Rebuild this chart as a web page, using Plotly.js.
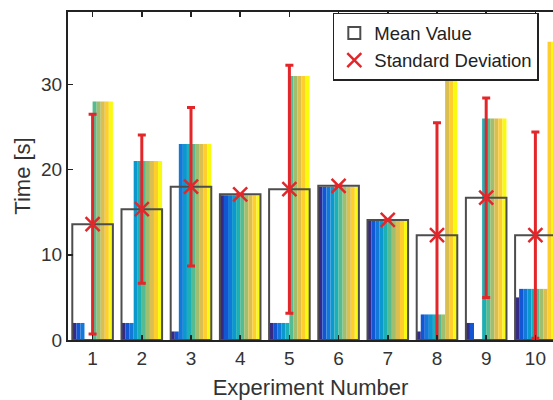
<!DOCTYPE html>
<html><head><meta charset="utf-8">
<script src="https://cdn.plot.ly/plotly-3.0.1.min.js"></script>
<style>html,body{margin:0;padding:0;overflow:hidden;background:#fff}</style>
</head><body><div id="chart" style="width:553px;height:400px"></div>
<script>
// ---- data ----
const experiments = [1, 2, 3, 4, 5, 6, 7, 8, 9, 10];
const tickLabels = ['1', '2', '3', '4', '5', '6', '7', '8', '9', '10'];
// time [s] of the 10 individual trials in each experiment
const exp1  = [2, 2, 2, 0, 0, 28, 28, 28, 28, 28];
const exp2  = [2, 2, 2, 21, 21, 21, 21, 21, 21, 21];
const exp3  = [1, 1, 23, 23, 23, 23, 23, 23, 23, 23];
const exp4  = [17, 17, 17, 17, 17, 17, 17, 17, 17, 17];
const exp5  = [2, 2, 2, 2, 2, 31, 31, 31, 31, 31];
const exp6  = [18, 18, 18, 18, 18, 18, 18, 18, 18, 18];
const exp7  = [14, 14, 14, 14, 14, 14, 14, 14, 14, 14];
const exp8  = [1, 3, 3, 3, 3, 3, 3, 31, 31, 31];
const exp9  = [2, 2, 0, 0, 26, 26, 26, 26, 26, 26];
const exp10 = [5, 6, 6, 6, 6, 6, 6, 6, 35, 35];
const meanValue    = [13.6, 15.35, 18.0, 17.1, 17.7, 18.1, 14.1, 12.3, 16.7, 12.3];
const stdDeviation = [12.9, 8.7, 9.3, 0, 14.55, 0, 0, 13.2, 11.7, 12.1];

// ---- styles ----
const trialColors = ['#352a87', '#1356d3', '#1379d8', '#0b98ce', '#1cafb5',
                     '#56bb90', '#a0be6d', '#dbbe50', '#fdce2e', '#f9fb0e'];
const RED = '#e3262a';
const GROUP_W = 0.825;

const allExp = [exp1, exp2, exp3, exp4, exp5, exp6, exp7, exp8, exp9, exp10];
const nTrials = exp1.length;
const subW = GROUP_W / nTrials;

const traces = [];
for (let t = 0; t < nTrials; t++) {
  traces.push({
    type: 'bar',
    x: experiments,
    y: allExp.map(e => e[t]),
    width: subW,
    offset: -GROUP_W / 2 + t * subW,
    marker: {color: trialColors[t], line: {width: 0}},
    showlegend: false,
    hoverinfo: 'skip'
  });
}
traces.push({
  type: 'bar',
  name: 'Mean Value',
  x: experiments,
  y: meanValue,
  width: GROUP_W,
  offset: -GROUP_W / 2,
  marker: {color: 'rgba(255,255,255,0)', line: {color: '#4d4d4d', width: 2}}
});
traces.push({
  type: 'scatter',
  mode: 'markers',
  name: 'Standard Deviation',
  x: experiments,
  y: meanValue,
  error_y: {type: 'data', array: stdDeviation, visible: true, color: RED, thickness: 3, width: 4},
  marker: {symbol: 'x-thin', size: 14, color: RED, line: {color: RED, width: 2.5}}
});

const layout = {
  width: 553, height: 400,
  margin: {l: 68, r: 0, t: 12, b: 60, pad: 0},
  paper_bgcolor: '#ffffff', plot_bgcolor: '#ffffff',
  font: {family: '"Liberation Sans", Arial, sans-serif', color: '#333333', size: 19},
  barmode: 'overlay',
  showlegend: true,
  legend: {x: 0.546, y: 0.997, xanchor: 'left', yanchor: 'top', bgcolor: '#ffffff',
           bordercolor: '#222222', borderwidth: 1.5, font: {size: 18.5, color: '#222222'}},
  xaxis: {range: [0.5, 10.358], tickvals: experiments, ticktext: tickLabels,
          ticks: 'inside', ticklen: 5, tickwidth: 1.5, tickcolor: '#222222',
          showline: true, linecolor: '#222222', linewidth: 2, mirror: 'ticks',
          showgrid: false, zeroline: false, tickfont: {size: 19, color: '#333333'},
          automargin: true,
          title: {text: 'Experiment Number', standoff: 14, font: {size: 22, color: '#333333'}}},
  yaxis: {range: [0, 38.5], tickvals: [0, 10, 20, 30],
          ticks: 'inside', ticklen: 5, tickwidth: 1.5, tickcolor: '#222222',
          showline: true, linecolor: '#222222', linewidth: 2, mirror: false,
          showgrid: false, zeroline: false, tickfont: {size: 19, color: '#333333'},
          automargin: true,
          title: {text: 'Time [s]', standoff: 4, font: {size: 22, color: '#333333'}}}
};

Plotly.newPlot('chart', traces, layout, {displayModeBar: false, staticPlot: true});
</script>
</body></html>
